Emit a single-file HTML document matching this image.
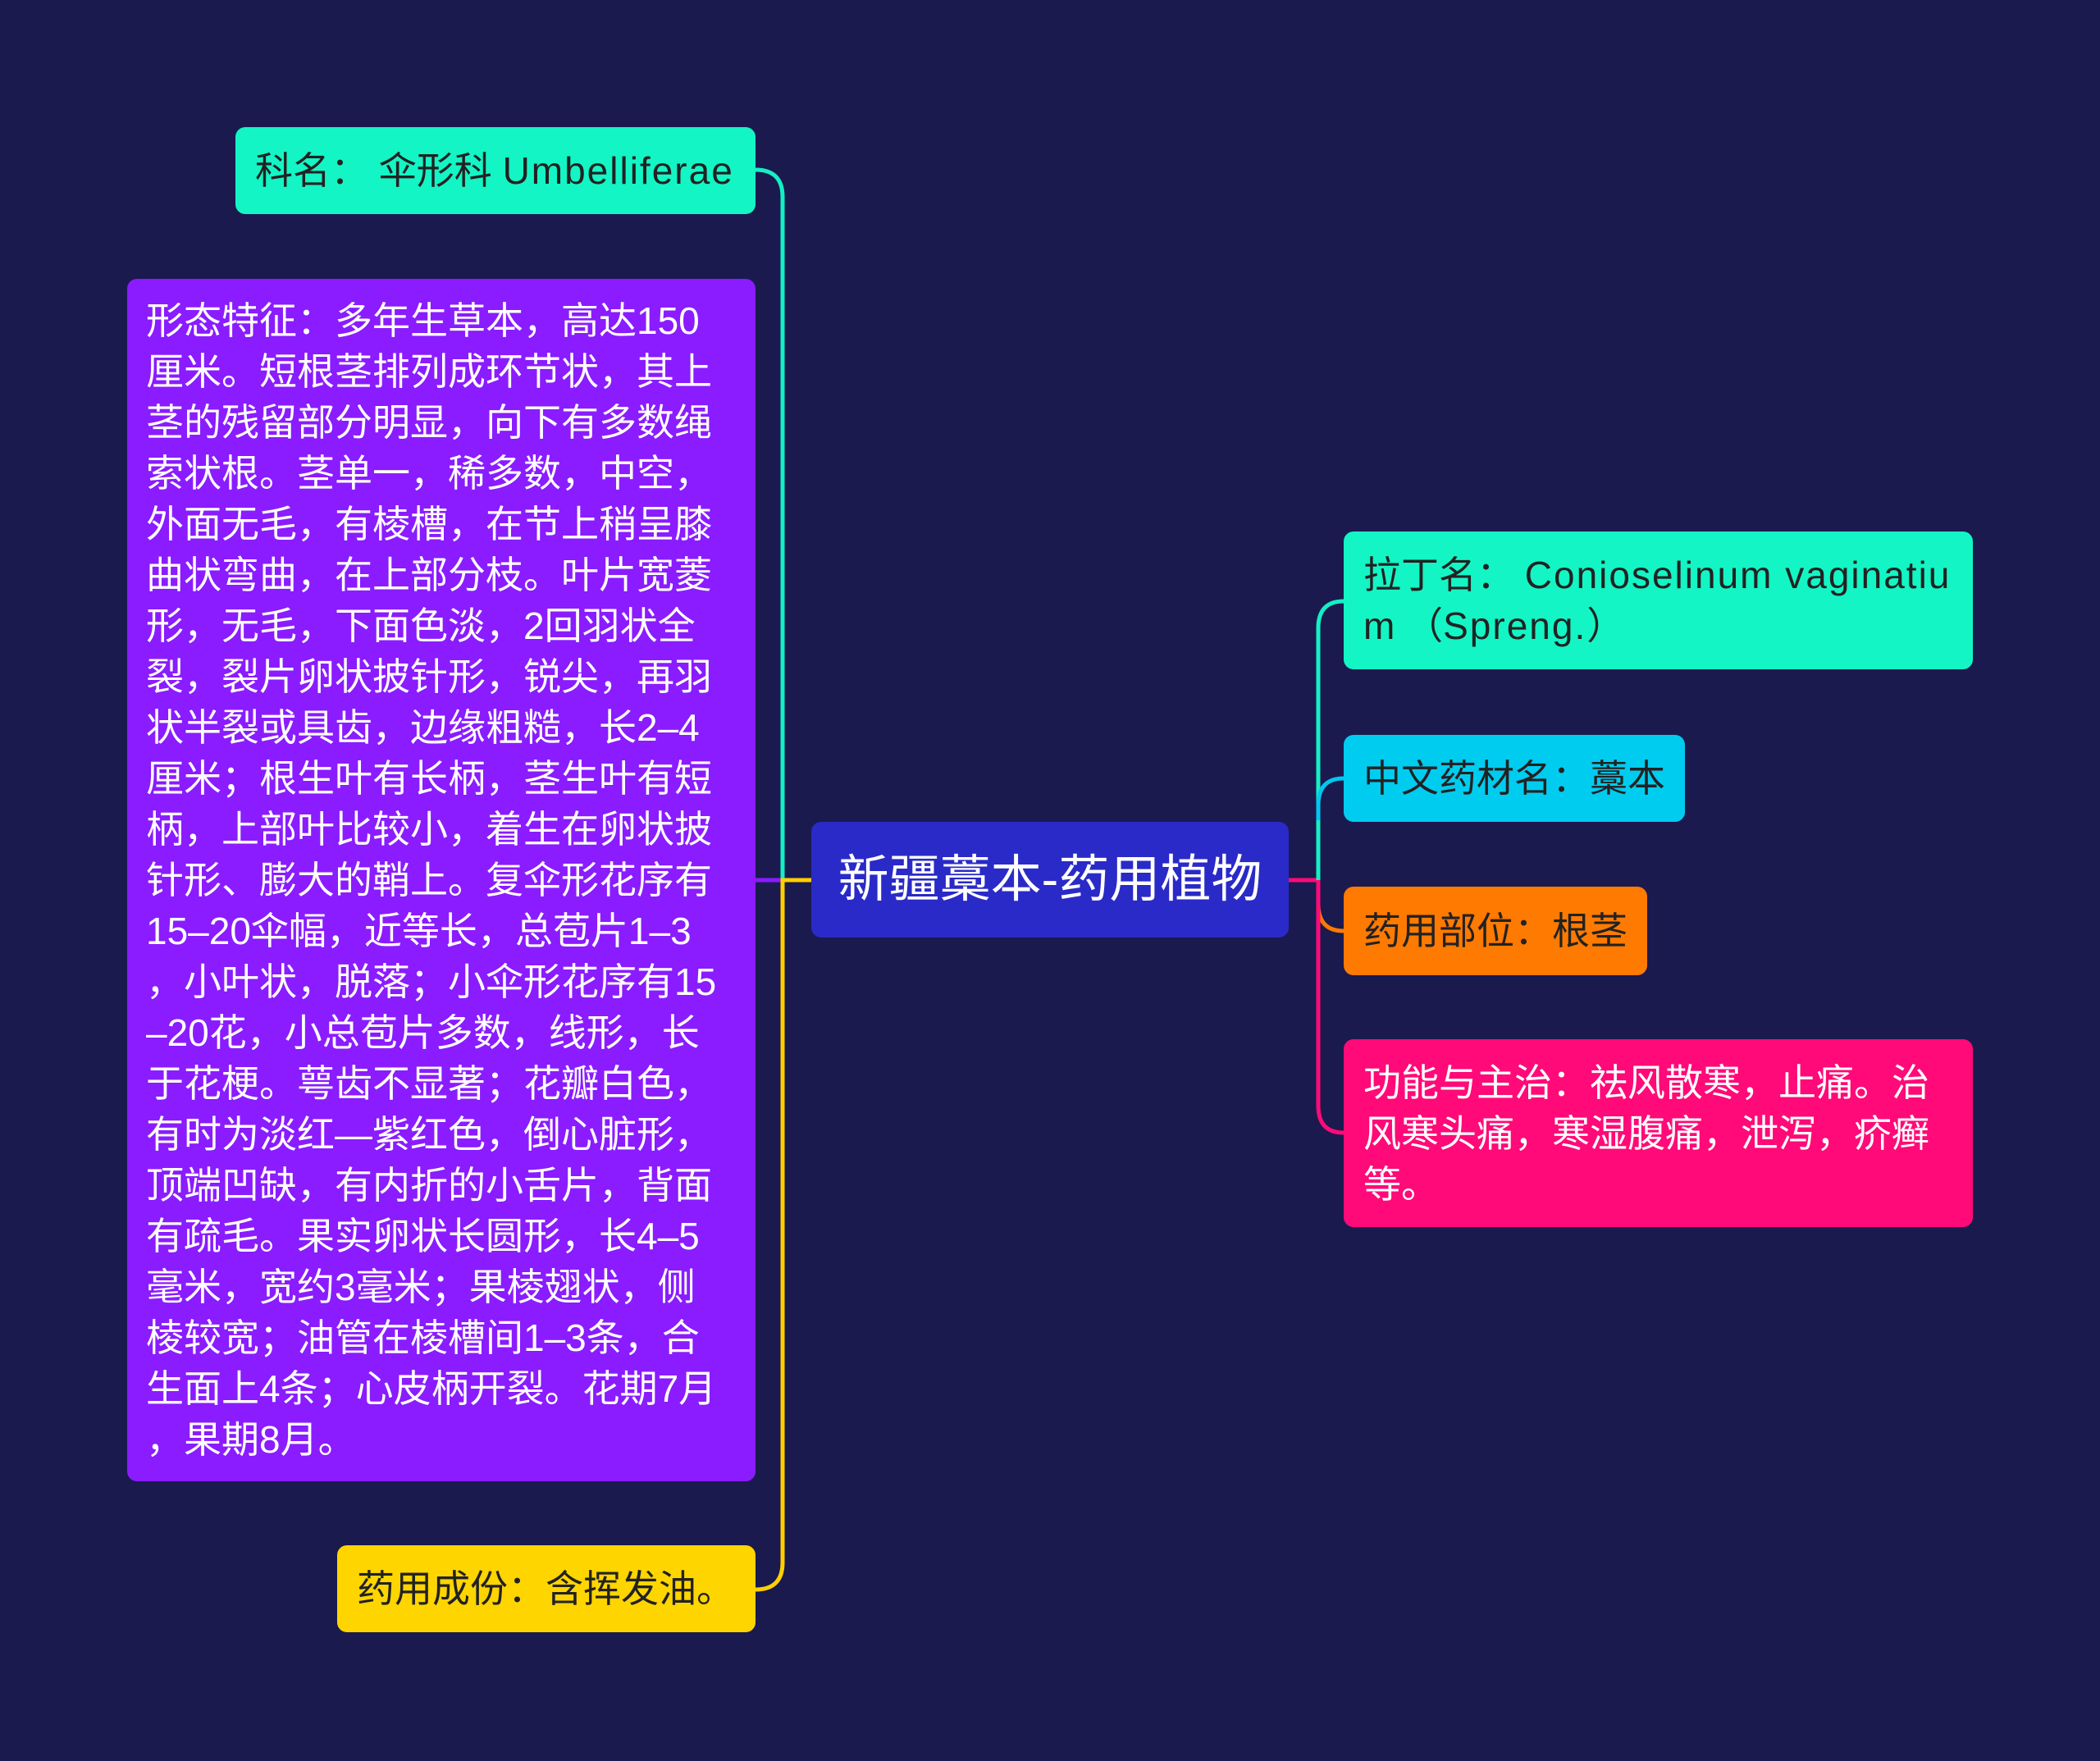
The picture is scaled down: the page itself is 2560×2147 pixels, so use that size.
<!DOCTYPE html>
<html><head><meta charset="utf-8"><style>
body{margin:0;width:2560px;height:2147px;background:#1a1a4f;position:relative;overflow:hidden;font-family:"Liberation Sans","Noto Sans CJK SC",sans-serif;}
.n{position:absolute;box-sizing:border-box;border-radius:12px;font-size:46px;line-height:62px;white-space:nowrap;color:#222;}
.l{letter-spacing:2px;}
</style></head><body>
<svg width="2560" height="2147" style="position:absolute;left:0;top:0">
<g fill="none" stroke-width="5">
<path d="M921 207 Q954 207 954 240 L954 1073" stroke="#13f0c4"/>
<path d="M989 1073 L921 1073" stroke="#8a1cff"/>
<path d="M989 1073 L954 1073 L954 1905 Q954 1938 921 1938" stroke="#ffd000"/>
<path d="M1571 1073 L1607 1073" stroke="#ff0a78"/>
<path d="M1607 1073 L1607 766 Q1607 733 1638 733" stroke="#13f0c4"/>
<path d="M1607 1000 L1607 982 Q1607 949 1638 949" stroke="#00c8f0"/>
<path d="M1607 1073 L1607 1102 Q1607 1135 1638 1135" stroke="#ff7a00"/>
<path d="M1607 1073 L1607 1348 Q1607 1381 1638 1381" stroke="#ff0a78"/>
</g></svg>
<div class="n" style="left:287px;top:155px;width:634px;height:106px;background:#13f5c5;padding:22px 0 0 24px;">科名：  伞形科 <span class="l">Umbelliferae</span></div>
<div class="n" style="left:155px;top:340px;width:766px;height:1466px;background:#8a1cff;color:#fff;padding:20px 0 0 23px;">形态特征：多年生草本，高达150<br>厘米。短根茎排列成环节状，其上<br>茎的残留部分明显，向下有多数绳<br>索状根。茎单一，稀多数，中空，<br>外面无毛，有棱槽，在节上稍呈膝<br>曲状弯曲，在上部分枝。叶片宽菱<br>形，无毛，下面色淡，2回羽状全<br>裂，裂片卵状披针形，锐尖，再羽<br>状半裂或具齿，边缘粗糙，长2–4<br>厘米；根生叶有长柄，茎生叶有短<br>柄，上部叶比较小，着生在卵状披<br>针形、膨大的鞘上。复伞形花序有<br>15–20伞幅，近等长，总苞片1–3<br>，小叶状，脱落；小伞形花序有15<br>–20花，小总苞片多数，线形，长<br>于花梗。萼齿不显著；花瓣白色，<br>有时为淡红—紫红色，倒心脏形，<br>顶端凹缺，有内折的小舌片，背面<br>有疏毛。果实卵状长圆形，长4–5<br>毫米，宽约3毫米；果棱翅状，侧<br>棱较宽；油管在棱槽间1–3条，合<br>生面上4条；心皮柄开裂。花期7月<br>，果期8月。</div>
<div class="n" style="left:411px;top:1884px;width:510px;height:106px;background:#ffd500;padding:22px 0 0 24px;">药用成份：含挥发油。</div>
<div class="n" style="left:989px;top:1002px;width:582px;height:141px;background:#2a2ac8;color:#fff;font-size:62px;line-height:141px;text-align:center;">新疆藁本-药用植物</div>
<div class="n" style="left:1638px;top:648px;width:767px;height:168px;background:#13f5c5;padding:22px 0 0 24px;">拉丁名：  <span class="l">Conioselinum vaginatiu</span><br>m （<span class="l">Spreng.</span>）</div>
<div class="n" style="left:1638px;top:896px;width:416px;height:106px;background:#00ccf0;padding:22px 0 0 24px;">中文药材名：藁本</div>
<div class="n" style="left:1638px;top:1081px;width:370px;height:108px;background:#ff7a00;padding:23px 0 0 24px;">药用部位：根茎</div>
<div class="n" style="left:1638px;top:1267px;width:767px;height:229px;background:#ff0a78;color:#fff;padding:22px 0 0 24px;">功能与主治：祛风散寒，止痛。治<br>风寒头痛，寒湿腹痛，泄泻，疥癣<br>等。</div>
</body></html>
